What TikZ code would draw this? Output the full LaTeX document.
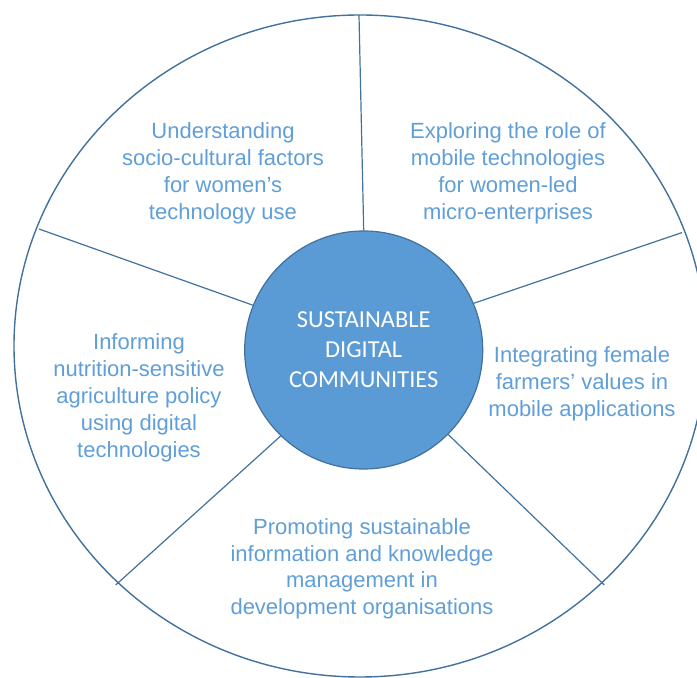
\documentclass[tikz,border=0pt]{standalone}
\usepackage{fontspec}
\setmainfont{Liberation Sans}
\newfontfamily\hubfont{Carlito}
\usepackage{tikz}
\usetikzlibrary{positioning}
\usepackage{xcolor}
\definecolor{hubblue}{RGB}{91,155,213}
\definecolor{rimblue}{RGB}{65,113,156}
\definecolor{labelblue}{RGB}{96,158,216}

\begin{document}
\begin{tikzpicture}[x=0.5pt,y=0.5pt]
  \tikzset{
    rim/.style={draw=rimblue,line width=0.7pt},
    spoke/.style={draw=rimblue,line width=0.6pt},
    hub/.style={circle,fill=hubblue,draw=rimblue,line width=0.6pt,minimum size=119pt,
      inner sep=0pt,align=center,text=white,font=\hubfont\fontsize{12.2}{14.95}\selectfont},
    theme/.style={align=center,text=labelblue,font=\fontsize{11}{13.45}\selectfont},
  }
  \useasboundingbox (-360,-332) rectangle (337,346);
  \clip (-360,-332) rectangle (337,346);

  % outer wheel and its rim points
  \draw[rim] (0,0) ellipse [x radius=346,y radius=331];
  \coordinate (r1) at (-1,331);     \coordinate (r2) at (322,113.4);
  \coordinate (r3) at (244.3,-239); \coordinate (r4) at (-244.3,-239);
  \coordinate (r5) at (-321,117);

  \node[hub] (hub) at (3.7,-4) {SUSTAINABLE\\DIGITAL\\COMMUNITIES};

  \draw[spoke] (hub.90) -- (r1);
  \draw[spoke] (hub.23.4) -- (r2);
  \draw[spoke] (hub.-45.8) -- (r3);
  \draw[spoke] (hub.-134) -- (r4);
  \draw[spoke] (hub.158.3) -- (r5);

  \node[theme] (socio) at (-137,173) {Understanding\\socio-cultural factors\\for women’s\\technology use};
  \node[theme] (mobile) at (148,173) {Exploring the role of\\mobile technologies\\for women-led\\micro-enterprises};
  \node[theme] (farmers) at (222,-37.5) {Integrating female\\farmers’ values in\\mobile applications};
  \node[theme] (knowledge) at (2,-222.8) {Promoting sustainable\\information and knowledge\\management in\\development organisations};
  \node[theme] (nutrition) at (-221,-52) {Informing\\nutrition-sensitive\\agriculture policy\\using digital\\technologies};
\end{tikzpicture}
\end{document}
